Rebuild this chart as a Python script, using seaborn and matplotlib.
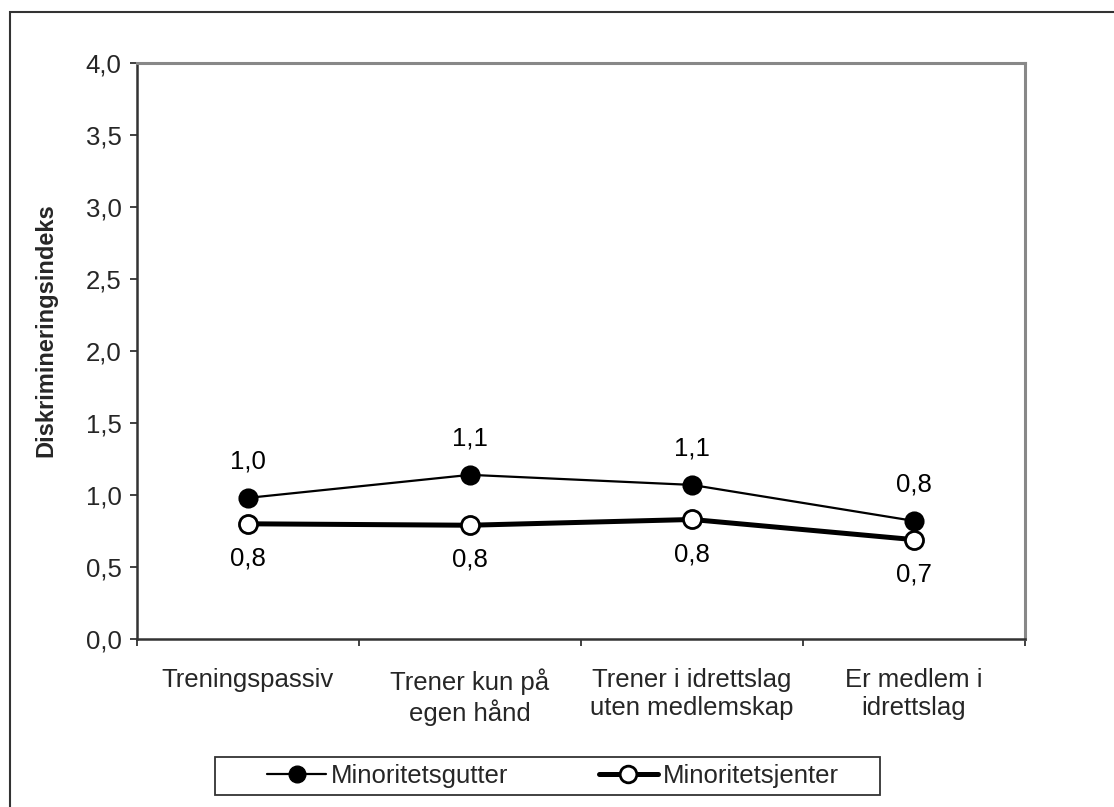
import matplotlib
matplotlib.use("Agg")
import matplotlib.pyplot as plt
import matplotlib.patches as mpatches
from matplotlib.lines import Line2D
import seaborn as sns
import pandas as pd

categories = ["Treningspassiv", "Trener kun på\negen hånd",
              "Trener i idrettslag\nuten medlemskap", "Er medlem i\nidrettslag"]
gutter = [0.98, 1.14, 1.07, 0.82]
jenter = [0.80, 0.79, 0.83, 0.69]
series_names = ["Minoritetsgutter", "Minoritetsjenter"]
y_ticks = [0.0, 0.5, 1.0, 1.5, 2.0, 2.5, 3.0, 3.5, 4.0]
y_label = "Diskrimineringsindeks"

sns.set_theme(style="white")
plt.rcParams['font.family'] = ['Liberation Sans', 'DejaVu Sans']

FS = 18.5
W, H = 1114, 807
fig = plt.figure(figsize=(W / 100, H / 100), dpi=100)
ax = fig.add_axes([137 / W, 1 - 639 / H, 888 / W, 576 / H])

idx = list(range(len(categories)))
df_g = pd.DataFrame({"x": idx, "y": gutter})
df_j = pd.DataFrame({"x": idx, "y": jenter})

sns.lineplot(data=df_g, x="x", y="y", ax=ax, color="black", lw=1.6,
             marker="o", markersize=13, markerfacecolor="black",
             markeredgecolor="black", markeredgewidth=1.5, zorder=3)
sns.lineplot(data=df_j, x="x", y="y", ax=ax, color="black", lw=3.6,
             marker="o", markersize=13, markerfacecolor="white",
             markeredgecolor="black", markeredgewidth=2, zorder=4)

def fmt(v):
    return f"{v:.1f}".replace(".", ",")

for i, v in enumerate(gutter):
    ax.annotate(fmt(v), (i, v), xytext=(0, 26), textcoords="offset points",
                ha="center", va="center", fontsize=FS, color="black")
for i, v in enumerate(jenter):
    ax.annotate(fmt(v), (i, v), xytext=(0, -25), textcoords="offset points",
                ha="center", va="center", fontsize=FS, color="black")

ax.set_xlim(-0.5, len(categories) - 0.5)
ax.set_ylim(0, 4)
ax.set_yticks(y_ticks)
ax.set_yticklabels([fmt(t) for t in y_ticks], fontsize=FS)
ax.set_xticks([i - 0.5 for i in range(len(categories) + 1)])
ax.set_xticklabels([])
ax.set_xticks(idx, minor=True)
ax.set_xticklabels(categories, minor=True, fontsize=FS, linespacing=1.2)
ax.tick_params(axis="x", which="major", direction="out", length=5, width=1.3,
               color="#333333", bottom=True)
ax.tick_params(axis="x", which="minor", length=0, pad=21, bottom=True)
ax.tick_params(axis="y", direction="out", length=5, width=1.3,
               color="#333333", left=True, pad=6)
ax.set_xlabel("")
ax.set_ylabel(y_label, fontsize=17, fontweight="bold")
ax.yaxis.set_label_coords((57 - 137) / 888, (639 - 330) / 576)

for s in ["left", "bottom"]:
    ax.spines[s].set_color("#333333")
    ax.spines[s].set_linewidth(1.8)
for s in ["top", "right"]:
    ax.spines[s].set_color("#888888")
    ax.spines[s].set_linewidth(2.2)
    ax.spines[s].set_visible(True)

# Outer frame
rect = mpatches.Rectangle((10 / W, -0.02), 1.05, 1 - 12 / H + 0.02,
                          transform=fig.transFigure, fill=False,
                          edgecolor="#333333", linewidth=1.5, clip_on=False)
fig.patches.append(rect)

# Legend box
lbox = mpatches.Rectangle((215 / W, 1 - 795 / H), 665 / W, 38 / H,
                          transform=fig.transFigure, fill=False,
                          edgecolor="#333333", linewidth=1.3)
fig.patches.append(lbox)

handles = [
    Line2D([], [], color="black", lw=1.6, marker="o", markersize=12,
           markerfacecolor="black", markeredgecolor="black"),
    Line2D([], [], color="black", lw=3.6, marker="o", markersize=12,
           markerfacecolor="white", markeredgecolor="black", markeredgewidth=2),
]
leg = fig.legend(handles, series_names, ncol=2, loc="center",
                 bbox_to_anchor=(553 / W, 1 - 776 / H),
                 frameon=False, fontsize=FS,
                 handlelength=2.3, handletextpad=0.2, columnspacing=3.5,
                 borderpad=0, borderaxespad=0)

fig.savefig("out.png", dpi=100)
